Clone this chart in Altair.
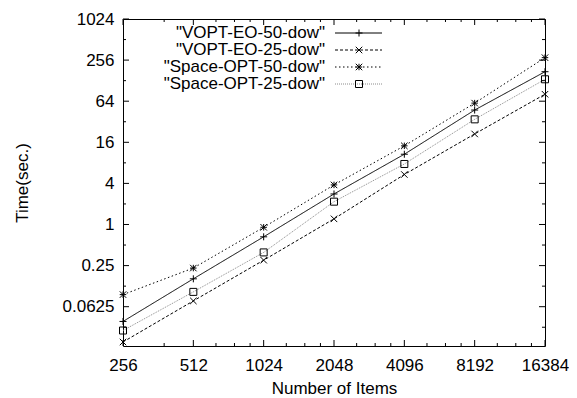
import altair as alt
import pandas as pd

items = [256, 512, 1024, 2048, 4096, 8192, 16384]
vopt_eo_50 = [0.038, 0.16, 0.66, 2.8, 10.7, 47.5, 173]
vopt_eo_25 = [0.019, 0.076, 0.30, 1.21, 5.4, 21.2, 81]
space_opt_50 = [0.094, 0.23, 0.91, 3.8, 14.2, 60, 278]
space_opt_25 = [0.028, 0.103, 0.39, 2.16, 7.7, 34.7, 134]

series_names = ['"VOPT-EO-50-dow"', '"VOPT-EO-25-dow"', '"Space-OPT-50-dow"', '"Space-OPT-25-dow"']
series_values = [vopt_eo_50, vopt_eo_25, space_opt_50, space_opt_25]

y_ticks = [0.0625, 0.25, 1, 4, 16, 64, 256, 1024]
y_minor = [0.03125, 0.125, 0.5, 2, 8, 32, 128, 512]
x_minor = [384, 640, 768, 896, 1280, 1536, 1792, 2560, 3072, 3584,
           5120, 6144, 7168, 10240, 12288, 14336]

W, H = 422, 327
FONT = "Liberation Sans"

PLUS = "M-1,0L1,0M0,-1L0,1"
CROSS = "M-1,-1L1,1M-1,1L1,-1"
STAR = "M-1,0L1,0M0,-1L0,1M-1,-1L1,1M-1,1L1,-1"
SQUARE = "M-1,-1L1,-1L1,1L-1,1Z"

styles = [
    dict(color="black", dash=[1, 0], shape=PLUS, size=49),
    dict(color="black", dash=[3, 2], shape=CROSS, size=42),
    dict(color="black", dash=[1.5, 2.5], shape=STAR, size=42),
    dict(color="#8c8c8c", dash=[1, 1], shape=SQUARE, size=49),
]

xscale = alt.Scale(type="log", base=2, domain=[256, 16384])
yscale = alt.Scale(type="log", base=2, domain=[0.0166, 1024])

x_axis = alt.Axis(values=items, format="~g", title="Number of Items", grid=False,
                  ticks=False, domain=False, labelFont=FONT, labelFontSize=17,
                  labelBaseline="middle", labelPadding=19, labelColor="black",
                  labelFlush=False, labelOverlap=False,
                  titleFont=FONT, titleFontSize=17, titleFontWeight="normal",
                  titleY=42, titleBaseline="middle", titleColor="black")
y_axis = alt.Axis(values=y_ticks, format="~g", title="Time(sec.)", grid=False,
                  ticks=False, domain=False, labelFont=FONT, labelFontSize=17,
                  labelPadding=9, labelColor="black", labelFlush=False,
                  labelOverlap=False,
                  titleFont=FONT, titleFontSize=17, titleFontWeight="normal",
                  titleX=-101, titleY=H / 2, titleAlign="center",
                  titleBaseline="middle", titleColor="black")


def X(field):
    return alt.X(field, scale=xscale, axis=x_axis)


def Y(field):
    return alt.Y(field, scale=yscale, axis=y_axis)


layers = []
for name, vals, st in zip(series_names, series_values, styles):
    df = pd.DataFrame({"items": items, "time": vals})
    base = alt.Chart(df)
    layers.append(base.mark_line(color=st["color"], strokeDash=st["dash"], strokeWidth=1)
                  .encode(x=X("items:Q"), y=Y("time:Q")))
    layers.append(base.mark_point(shape=st["shape"], size=st["size"], filled=False,
                                  color="black", strokeWidth=1, opacity=1)
                  .encode(x=X("items:Q"), y=Y("time:Q")))

# inward tick marks on all four sides
xt = pd.DataFrame({"items": items})
xm = pd.DataFrame({"items": x_minor})
yt = pd.DataFrame({"time": y_ticks})
ym = pd.DataFrame({"time": y_minor})
tick_style = dict(color="black", strokeWidth=1)
for d, L in ((xt, 6), (xm, 3)):
    layers.append(alt.Chart(d).mark_rule(**tick_style).encode(x=X("items:Q"), y=alt.value(H), y2=alt.value(H - L)))
    layers.append(alt.Chart(d).mark_rule(**tick_style).encode(x=X("items:Q"), y=alt.value(0), y2=alt.value(L)))
for d, L in ((yt, 6), (ym, 3)):
    layers.append(alt.Chart(d).mark_rule(**tick_style).encode(y=Y("time:Q"), x=alt.value(0), x2=alt.value(L)))
    layers.append(alt.Chart(d).mark_rule(**tick_style).encode(y=Y("time:Q"), x=alt.value(W), x2=alt.value(W - L)))

# legend (gnuplot style: text then line sample)
row_y = [14, 31, 48, 65]
text_right = 202
sample_x1, sample_x2, sample_mid = 212, 259, 236
for name, st, ry in zip(series_names, styles, row_y):
    ld = pd.DataFrame({"label": [name]})
    lb = alt.Chart(ld)
    layers.append(lb.mark_text(align="right", baseline="middle", font=FONT, fontSize=17, color="black")
                  .encode(text="label:N", x=alt.value(text_right), y=alt.value(ry)))
    layers.append(lb.mark_rule(color=st["color"], strokeDash=st["dash"], strokeWidth=1)
                  .encode(x=alt.value(sample_x1), x2=alt.value(sample_x2), y=alt.value(ry)))
    layers.append(lb.mark_point(shape=st["shape"], size=st["size"], filled=False,
                                color="black", strokeWidth=1, opacity=1)
                  .encode(x=alt.value(sample_mid), y=alt.value(ry)))

chart = alt.layer(*layers).properties(
    width=W, height=H,
    autosize=alt.AutoSizeParams(type="none"),
    padding={"left": 115, "top": 11, "right": 24, "bottom": 52},
    background="white",
).configure_view(stroke="black", strokeWidth=1)

chart.save("out.html", embed_options={"renderer": "svg", "actions": False})
